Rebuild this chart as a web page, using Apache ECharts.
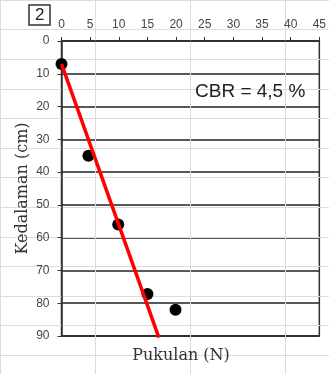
<!DOCTYPE html>
<html><head><meta charset="utf-8">
<script src="https://cdn.jsdelivr.net/npm/echarts@6/dist/echarts.min.js"></script>
<style>html,body{margin:0;padding:0;background:#fff;}#c{width:329px;height:374px;}</style>
</head><body><div id="c"></div>
<script>
// Data
var blows = [0, 4.7, 9.9, 15, 19.9];          // Pukulan (N)
var depths = [7, 35, 56, 77.2, 82];           // Kedalaman (cm)
var fitLineX = [0, 17];
var fitLineY = [7, 90.5];
var xTicks = [0, 5, 10, 15, 20, 25, 30, 35, 40, 45];
var yTicks = [0, 10, 20, 30, 40, 50, 60, 70, 80, 90];
var cbrText = 'CBR = 4,5 %';
var panelLabel = '2';

var chart = echarts.init(document.getElementById('c'), null, {renderer: 'canvas'});
var pts = blows.map(function (b, i) { return [b, depths[i]]; });
var line = fitLineX.map(function (x, i) { return [x, fitLineY[i]]; });

chart.setOption({
  animation: false,
  backgroundColor: '#fff',
  title: [
    {text: panelLabel, left: 29, top: 5, padding: [1, 6, 0, 6], borderColor: '#333', borderWidth: 1.5,
     textStyle: {fontFamily: 'Liberation Sans', fontSize: 17, fontWeight: 'normal', color: '#222', lineHeight: 19}},
    {text: 'Pukulan (N)', left: 181, top: 348, textAlign: 'center', padding: 0,
     textStyle: {fontFamily: 'DejaVu Serif', fontSize: 16, fontWeight: 'normal', color: '#333'}}
  ],
  grid: [
    {left: 61.5, right: 5, top: 41, bottom: 38, show: true, borderColor: '#333', borderWidth: 1.5, backgroundColor: 'transparent'},
    {left: 0, right: 0, top: 0, bottom: 0, show: false}
  ],
  xAxis: [
    {gridIndex: 0, type: 'value', position: 'top', min: 0, max: 45, interval: 5,
     axisLine: {show: true, lineStyle: {color: '#333', width: 1.5}},
     axisTick: {show: true, inside: false, length: 4, lineStyle: {color: '#333'}},
     axisLabel: {margin: 10, color: '#444', fontSize: 12, fontFamily: 'Liberation Sans',
       formatter: function (v) { return xTicks.indexOf(v) >= 0 ? String(v) : ''; }},
     splitLine: {show: false}},
    {gridIndex: 1, type: 'value', min: -56, max: 273, interval: 95, show: true,
     axisLine: {show: false}, axisTick: {show: false}, axisLabel: {show: false},
     splitLine: {show: true, lineStyle: {color: '#dcdcdc', width: 1}}}
  ],
  yAxis: [
    {gridIndex: 0, type: 'value', inverse: true, min: 0, max: 90, interval: 10,
     name: 'Kedalaman (cm)', nameLocation: 'middle', nameRotate: 90, nameGap: 31, nameMoveOverlap: false,
     nameTextStyle: {fontFamily: 'DejaVu Serif', fontSize: 16, color: '#333'},
     axisLine: {show: true, lineStyle: {color: '#333', width: 1.5}},
     axisTick: {show: true, length: 4, lineStyle: {color: '#333'}},
     axisLabel: {margin: 12, color: '#444', fontSize: 12, fontFamily: 'Liberation Sans',
       formatter: function (v) { return yTicks.indexOf(v) >= 0 ? String(v) : ''; }},
     splitLine: {show: true, lineStyle: {color: '#222', width: 1.5}}},
    {gridIndex: 1, type: 'value', inverse: true, min: -4.6, max: 369.4, interval: 29.6, show: true,
     axisLine: {show: false}, axisTick: {show: false}, axisLabel: {show: false},
     splitLine: {show: true, lineStyle: {color: '#dcdcdc', width: 1}}}
  ],
  graphic: [
    {type: 'text', left: 195, top: 82, z: 100,
     style: {text: cbrText, fontFamily: 'Liberation Sans', fontSize: 19, fill: '#222'}}
  ],
  series: [
    {type: 'scatter', xAxisIndex: 0, yAxisIndex: 0, data: pts, symbol: 'circle', symbolSize: 12,
     itemStyle: {color: '#000', opacity: 1}, z: 3},
    {type: 'line', xAxisIndex: 0, yAxisIndex: 0, data: line, showSymbol: false, clip: false,
     lineStyle: {color: '#ff0000', width: 3.5}, z: 4}
  ]
});
</script></body></html>
